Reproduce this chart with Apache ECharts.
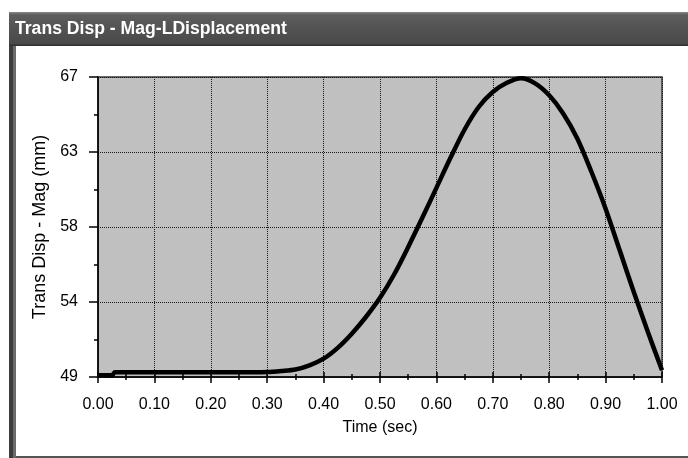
<!DOCTYPE html>
<html lang="en">
	<head>
		<meta charset="UTF-8" />
		<title>Trans Disp - Mag-LDisplacement</title>
		<style>
			* {
				box-sizing: border-box;
				margin: 0;
				padding: 0;
			}

			body {
				background-color: #ffffff;
			}

			.container {
				width: 688px;
				height: 458px;
			}
		</style>
	</head>
	<body>
		<div class="container" id="chart"></div>
		<script src="https://cdn.jsdelivr.net/npm/echarts@6/dist/echarts.min.js"></script>
		<script>
			// 读图得到的数据
			var timeSec = [0, 0.025, 0.03, 0.05, 0.1, 0.15, 0.2, 0.25, 0.3, 0.325, 0.35, 0.375, 0.4, 0.425, 0.45, 0.475, 0.5,
				0.525, 0.55, 0.575, 0.6, 0.625, 0.65, 0.675, 0.7, 0.725, 0.75, 0.775, 0.8, 0.825, 0.85, 0.875, 0.9, 0.925,
				0.95, 0.975, 1.0
			]
			var dispMm = [49.1, 49.12, 49.28, 49.28, 49.28, 49.28, 49.28, 49.28, 49.3, 49.36, 49.45, 49.7, 50.1, 50.75, 51.6,
				52.6, 53.75, 55.15, 56.8, 58.55, 60.35, 62.15, 63.85, 65.2, 66.1, 66.65, 66.92, 66.62, 65.9, 64.8, 63.3,
				61.3, 59.1, 56.6, 54.1, 51.7, 49.4
			]
			var xTicks = [0, 1, 0.1] // min, max, interval
			var yTicks = [49, 67, 4.5]

			var points = timeSec.map(function(t, i) {
				return [t, dispMm[i]]
			})

			var font = '"Liberation Sans", Arial, sans-serif'

			var chart = echarts.init(document.getElementById('chart'))
			chart.setOption({
				animation: false,
				backgroundColor: '#ffffff',
				textStyle: {
					fontFamily: font
				},
				graphic: [{
						// 窗口标题栏
						type: 'rect',
						shape: { x: 9, y: 12, width: 679, height: 34 },
						style: {
							fill: new echarts.graphic.LinearGradient(0, 0, 0, 1, [
								{ offset: 0, color: '#8a8a8a' },
								{ offset: 0.08, color: '#5e5e5e' },
								{ offset: 0.5, color: '#525252' },
								{ offset: 0.92, color: '#4a4a4a' },
								{ offset: 1, color: '#2e2e2e' }
							])
						}
					},
					{
						type: 'text',
						left: 15,
						top: 20,
						style: {
							text: 'Trans Disp - Mag-LDisplacement',
							fill: '#ffffff',
							font: 'bold 17.6px ' + font
						}
					},
					{
						// 左边框
						type: 'rect',
						shape: { x: 9, y: 46, width: 4, height: 412 },
						style: { fill: '#3c3c3c' }
					},
					{
						type: 'rect',
						shape: { x: 13, y: 46, width: 3, height: 412 },
						style: { fill: '#6a6a6a' }
					},
					{
						// 底边
						type: 'rect',
						shape: { x: 16, y: 456, width: 672, height: 2 },
						style: { fill: '#555555' }
					}
				],
				grid: {
					show: true,
					left: 98,
					right: 26,
					top: 77,
					bottom: 81,
					backgroundColor: '#c0c0c0',
					borderColor: '#3a3a3a',
					borderWidth: 1.5
				},
				xAxis: [{
						type: 'value',
						min: xTicks[0],
						max: xTicks[1],
						interval: xTicks[2],
						name: 'Time (sec)',
						nameLocation: 'middle',
						nameGap: 43,
						nameTextStyle: {
							color: '#000',
							fontSize: 16,
							fontFamily: font
						},
						axisLine: {
							lineStyle: { color: '#000', width: 1.5 }
						},
						axisTick: {
							length: 6,
							lineStyle: { color: '#000', width: 1.5 }
						},
						minorTick: {
							show: true,
							splitNumber: 2,
							length: 3,
							lineStyle: { color: '#000', width: 1.5 }
						},
						axisLabel: {
							color: '#000',
							fontSize: 16,
							margin: 20,
							formatter: function(v) {
								return v.toFixed(2)
							}
						},
						splitLine: {
							lineStyle: { color: '#1a1a1a', width: 1, type: [1, 1] }
						}
					},
					{
						// 刻度向内的部分
						type: 'value',
						position: 'bottom',
						min: xTicks[0],
						max: xTicks[1],
						interval: xTicks[2],
						axisLine: { show: false },
						axisLabel: { show: false },
						splitLine: { show: false },
						axisTick: {
							inside: true,
							length: 5,
							lineStyle: { color: '#000', width: 1.5 }
						},
						minorTick: {
							show: true,
							splitNumber: 2,
							length: 3,
							lineStyle: { color: '#000', width: 1.5 }
						}
					}
				],
				yAxis: {
					type: 'value',
					min: yTicks[0],
					max: yTicks[1],
					interval: yTicks[2],
					name: 'Trans Disp - Mag (mm)',
					nameLocation: 'middle',
					nameGap: 42,
					nameTextStyle: {
						color: '#000',
						fontSize: 18,
						fontFamily: font
					},
					axisLine: {
						show: true,
						lineStyle: { color: '#000', width: 1.5 }
					},
					axisTick: {
						show: true,
						length: 9,
						lineStyle: { color: '#000', width: 1.5 }
					},
					minorTick: {
						show: true,
						splitNumber: 2,
						length: 4,
						lineStyle: { color: '#000', width: 1.5 }
					},
					axisLabel: {
						color: '#000',
						fontSize: 16,
						margin: 20,
						formatter: function(v) {
							return String(Math.round(v))
						}
					},
					splitLine: {
						lineStyle: { color: '#1a1a1a', width: 1, type: [1, 1] }
					}
				},
				series: [{
					type: 'line',
					data: points,
					showSymbol: false,
					smooth: 0.3,
					clip: false,
					lineStyle: {
						color: '#000',
						width: 4.5
					}
				}]
			})
		</script>
</body>
</html>
